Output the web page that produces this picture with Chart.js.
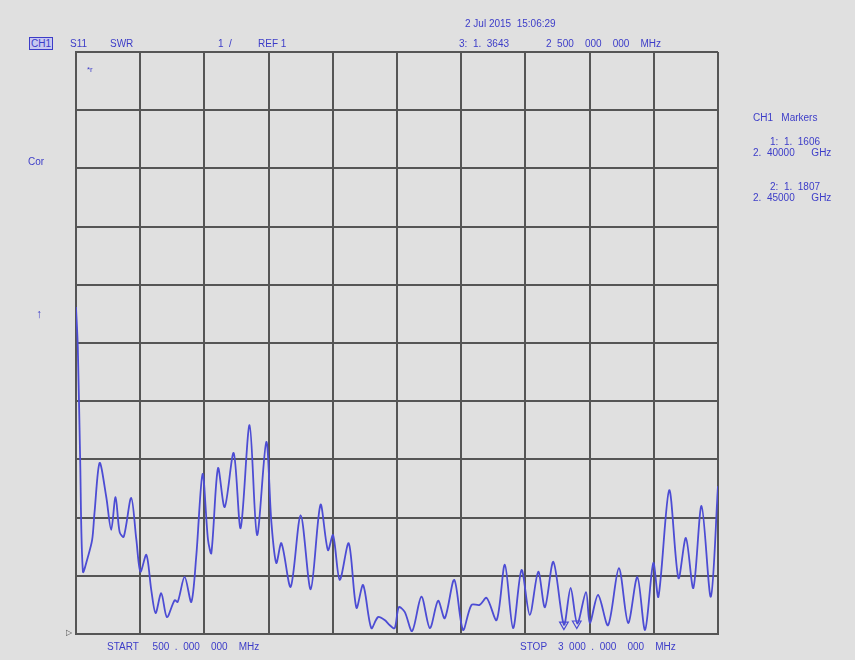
<!DOCTYPE html>
<html>
<head>
<meta charset="utf-8">
<script src="https://cdn.jsdelivr.net/npm/chart.js@4"></script>
<style>
body { margin: 0; background: #e0e0e0; }
#wrap { position: relative; width: 855px; height: 660px; background: #e0e0e0; font-family: "Liberation Sans", Arial, sans-serif; }
#wrap canvas { position: absolute; left: 0; top: 0; }
.t { position: absolute; color: #3c3cc8; font-size: 10px; white-space: pre; line-height: 11px; }
.box { border: 1px solid #3c3cc8; background: #c8c8f0; padding: 0 1px; }
</style>
</head>
<body>
<div id="wrap">
<canvas id="swrChart" width="855" height="660"></canvas>
<div class="t box" style="left:29px;top:37px;">CH1</div>
<div class="t" style="left:70px;top:38px;">S11</div>
<div class="t" style="left:110px;top:38px;">SWR</div>
<div class="t" style="left:218px;top:38px;">1  /</div>
<div class="t" style="left:258px;top:38px;">REF 1</div>
<div class="t" style="left:465px;top:18px;">2 Jul 2015  15:06:29</div>
<div class="t" style="left:459px;top:38px;">3:  1.  3643</div>
<div class="t" style="left:546px;top:38px;">2  500    000    000    MHz</div>
<div class="t" style="left:753px;top:112px;">CH1   Markers</div>
<div class="t" style="left:770px;top:136px;">1:  1.  1606</div>
<div class="t" style="left:753px;top:147px;">2.  40000      GHz</div>
<div class="t" style="left:770px;top:181px;">2:  1.  1807</div>
<div class="t" style="left:753px;top:192px;">2.  45000      GHz</div>
<div class="t" style="left:28px;top:156px;">Cor</div>
<div class="t" style="left:36px;top:309px;font-size:12px;">&#8593;</div>
<div class="t" style="left:87px;top:64px;font-size:8px;">*r</div>
<div class="t" style="left:66px;top:627px;font-size:8px;color:#505050;">&#9655;</div>
<div class="t" style="left:107px;top:641px;">START     500  .  000    000    MHz</div>
<div class="t" style="left:520px;top:641px;">STOP    3  000  .  000    000    MHz</div>
</div>
<script>
// sweep 500 MHz .. 3000 MHz, SWR trace
var freqMHz = [500, 507, 516, 527, 546, 563, 572, 592, 618, 637, 654, 670, 686, 715, 735, 751, 774, 793, 810, 832, 854,
884, 896, 923, 949, 968, 993, 1014, 1027, 1053, 1079, 1114, 1141, 1176, 1205, 1241, 1261, 1280, 1300, 1336, 1375,
1414, 1452, 1481, 1501, 1527, 1562, 1592, 1618, 1650, 1676, 1702, 1722, 1741, 1757, 1780, 1809, 1845, 1878, 1910,
1936, 1973, 2007, 2040, 2072, 2099, 2138, 2170, 2202, 2235, 2267, 2300, 2326, 2359, 2400, 2426, 2452, 2486, 2501,
2533, 2572, 2614, 2650, 2686, 2716, 2748, 2768, 2810, 2846, 2875, 2904, 2936, 2972, 3000];
var swr = [6.62, 5.93, 4.04, 2.07, 2.32, 2.62, 3.08, 3.94, 3.35, 2.79, 3.35, 2.75, 2.67, 3.34, 2.62, 2.07, 2.36, 1.76, 1.36, 1.70, 1.29,
1.58, 1.55, 1.98, 1.55, 2.32, 3.75, 2.62, 2.39, 3.85, 3.18, 4.11, 2.82, 4.59, 2.70, 4.30, 2.91, 2.22, 2.56, 1.81, 3.04,
1.77, 3.22, 2.44, 2.70, 1.93, 2.56, 1.45, 1.84, 1.10, 1.29, 1.24, 1.15, 1.10, 1.46, 1.38, 1.05, 1.64, 1.10, 1.57,
1.27, 1.93, 1.07, 1.50, 1.50, 1.62, 1.24, 2.19, 1.10, 2.10, 1.33, 2.07, 1.46, 2.24, 1.16, 1.79, 1.18, 1.72, 1.19,
1.67, 1.15, 2.13, 1.19, 1.98, 1.07, 2.22, 1.64, 3.47, 1.96, 2.65, 1.79, 3.20, 1.64, 3.54];

var markerFreq = [2400, 2450];
var markerSwr = [1.1606, 1.1807];

var tracePoints = [];
for (var i = 0; i < freqMHz.length; i++) {
	tracePoints.push({x: freqMHz[i], y: swr[i]});
}
var markerPoints = [];
for (var j = 0; j < markerFreq.length; j++) {
	markerPoints.push({x: markerFreq[j], y: markerSwr[j]});
}

var gridColor = "#555555";

var swrConfig = {
type: 'line',
data: {
datasets: [{
data: tracePoints,
borderColor: "#4c4cd4",
borderWidth: 1.8,
pointRadius: 0,
tension: 0.3,
fill: false
}, {
data: markerPoints,
showLine: false,
pointStyle: 'triangle',
rotation: 180,
pointRadius: 5,
pointBorderColor: "#4c4cd4",
pointBackgroundColor: "rgba(0,0,0,0)",
pointBorderWidth: 1.2
}]
},
options: {
responsive: false,
animation: false,
layout: { padding: { left: 76, top: 52, right: 137, bottom: 26 } },
plugins: { legend: { display: false }, tooltip: { enabled: false } },
scales: {
x: {
type: 'linear',
min: 500,
max: 3000,
ticks: { display: false, stepSize: 250 },
grid: { color: gridColor, lineWidth: 2, drawTicks: false },
border: { color: gridColor, width: 2 }
},
y: {
min: 1,
max: 11,
ticks: { display: false, stepSize: 1 },
grid: { color: gridColor, lineWidth: 2, drawTicks: false },
border: { color: gridColor, width: 2 }
}
}
}
};

window.onload = function() {
	var ctx = document.getElementById("swrChart").getContext("2d");
	window.swrChart = new Chart(ctx, swrConfig);
};
</script>
</body>
</html>
